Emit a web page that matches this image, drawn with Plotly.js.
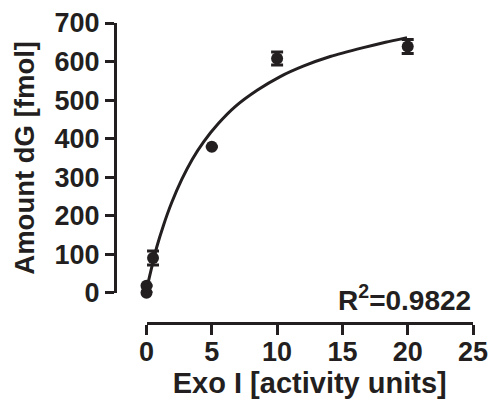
<!DOCTYPE html>
<html>
<head>
<meta charset="utf-8">
<script src="https://cdn.plot.ly/plotly-3.0.1.min.js"></script>
<style>html,body{margin:0;padding:0;background:#fff;}#chart{width:491px;height:403px;}</style>
</head>
<body>
<div id="chart"></div>
<script>
// measured data points
const exoUnits = [0, 0, 0.5, 5, 10, 20];
const amountDG = [0, 18, 90, 379, 608, 639];
const amountErr = [0, 0, 18, 0, 17, 18];

// fitted curve
const fitX = [0, 0.14, 0.5, 0.78, 1.29, 1.93, 2.7, 3.5, 4.36, 5.5, 6.79, 8.5, 10.24, 12, 14.07, 16.6, 18.3, 19.95];
const fitY = [0, 28, 80, 118, 174, 234, 294, 346, 391, 439, 483, 526, 561, 588, 613, 636, 650, 662];

const xTicks = [0, 5, 10, 15, 20, 25];
const yTicks = [0, 100, 200, 300, 400, 500, 600, 700];
const r2Label = 'R<sup>2</sup>=0.9822';

const ink = '#231f20';
const fam = 'Liberation Sans, Arial, sans-serif';

const traces = [
  {
    x: fitX, y: fitY, type: 'scatter', mode: 'lines',
    line: {color: ink, width: 3, shape: 'spline', smoothing: 0.6},
    cliponaxis: false, hoverinfo: 'skip'
  },
  {
    x: exoUnits, y: amountDG, type: 'scatter', mode: 'markers',
    marker: {color: ink, size: 12},
    error_y: {type: 'data', array: amountErr, visible: true, color: ink, thickness: 3, width: 6},
    cliponaxis: false
  }
];

const layout = {
  width: 491, height: 403,
  margin: {l: 115, r: 18, t: 23, b: 80},
  paper_bgcolor: '#fff', plot_bgcolor: '#fff',
  showlegend: false,
  font: {family: fam, color: ink, weight: 'bold'},
  xaxis: {
    domain: [0.088, 1], range: [0, 25],
    anchor: 'free', position: 0,
    tickvals: xTicks, ticktext: xTicks.map(String),
    ticks: 'outside', ticklen: 10, tickwidth: 3, tickcolor: ink,
    ticklabelstandoff: -6,
    showline: true, linecolor: ink, linewidth: 3,
    showgrid: false, zeroline: false,
    tickfont: {family: fam, size: 27, color: ink, weight: 'bold'},
    title: {text: 'Exo I [activity units]', font: {family: fam, size: 29, color: ink, weight: 'bold'}, standoff: 2}
  },
  yaxis: {
    domain: [0.101, 1], range: [0, 700],
    anchor: 'free', position: 0,
    tickvals: yTicks, ticktext: yTicks.map(String),
    ticks: 'outside', ticklen: 9, tickwidth: 3, tickcolor: ink,
    showline: true, linecolor: ink, linewidth: 3,
    showgrid: false, zeroline: false,
    tickfont: {family: fam, size: 27, color: ink, weight: 'bold'},
    title: {text: 'Amount dG [fmol]', font: {family: fam, size: 27.5, color: ink, weight: 'bold'}, standoff: 10}
  },
  annotations: [{
    xref: 'x', yref: 'paper', x: 25, y: 0.085, xanchor: 'right', yanchor: 'middle',
    text: r2Label, showarrow: false,
    font: {family: fam, size: 28, color: ink, weight: 'bold'}
  }]
};

Plotly.newPlot('chart', traces, layout, {displayModeBar: false, staticPlot: true});
</script>
</body>
</html>
